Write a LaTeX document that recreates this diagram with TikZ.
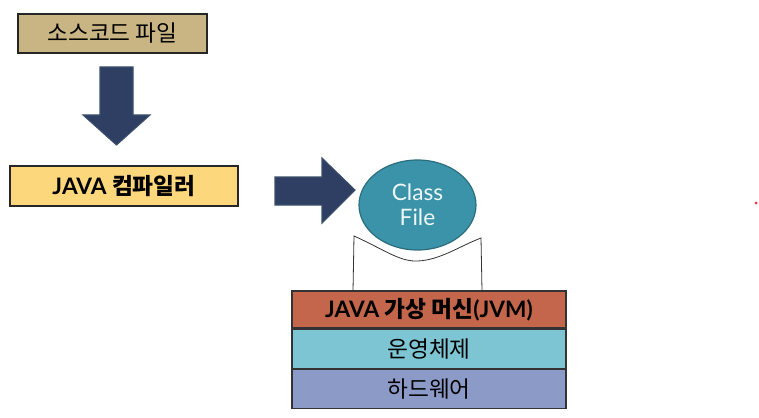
\documentclass[tikz,border=0pt]{standalone}
\usepackage{fontspec}
\setmainfont{Lato}
\newfontfamily\kr{Noto Sans CJK KR}
\usetikzlibrary{shapes.geometric}
\definecolor{tanbox}{HTML}{C9B583}
\definecolor{yellowbox}{HTML}{FDD77C}
\definecolor{navy}{HTML}{2F3E63}
\definecolor{navyedge}{HTML}{3B5068}
\definecolor{teal}{HTML}{3A93A8}
\definecolor{tealedge}{HTML}{2C6E7E}
\definecolor{jvmc}{HTML}{C4664B}
\definecolor{osc}{HTML}{7EC5D4}
\definecolor{hwc}{HTML}{8C9AC7}
\tikzset{
  box/.style={draw=black!85, line width=0.8pt, inner sep=0pt},
  blockarrow/.style={fill=navy, draw=navyedge, line width=0.8pt, line join=miter},
  layer/.style={draw=black!80, line width=0.8pt, minimum width=274*0.75pt, inner sep=0pt, font=\kr\fontsize{17}{19}\selectfont},
}
\begin{document}
\begin{tikzpicture}[x=0.75pt,y=-0.75pt]
\useasboundingbox (0,0) rectangle (759,417);
% boxes
\node[box, fill=tanbox, minimum width=189*0.75pt, minimum height=39*0.75pt, font=\kr\fontsize{17}{19}\selectfont] (src) at (112.5,33.5) {소스코드 파일};
\node[box, fill=yellowbox, minimum width=228*0.75pt, minimum height=40*0.75pt, font=\fontsize{17}{19}\selectfont\bfseries] (comp) at (124,186) {JAVA {\kr\bfseries 컴파일러}};
% down arrow
\draw[blockarrow] (100,67) -- (133,67) -- (133,115) -- (150,115) -- (116.5,145) -- (83,115) -- (100,115) -- cycle;
% right arrow
\draw[blockarrow] (275,177) -- (322,177) -- (322,158) -- (355,190) -- (322,223) -- (322,205) -- (275,205) -- cycle;
% bracket
\coordinate (bl) at (354,236);
\coordinate (br) at (481,238);
\coordinate (bbl) at (353,291);
\coordinate (bbr) at (482,291);
\draw[black!80, line width=0.6pt] (bbl) -- (bl) .. controls (385,250) and (400,262) .. (418,261) .. controls (440,260) and (460,246) .. (br) -- (bbr);
% class file
\node[ellipse, fill=teal, draw=tealedge, line width=0.9pt, minimum width=117*0.75pt, minimum height=90*0.75pt, inner sep=0pt, text=white!92!teal, font=\fontsize{17}{19}\selectfont, align=center] (cls) at (417.5,205) {Class\\File};
% stack
\node[layer, fill=jvmc, minimum height=37*0.75pt, font=\fontsize{17}{19}\selectfont\bfseries] (jvm) at (429,309.5) {JAVA {\kr\bfseries 가상 머신}(JVM)};
\node[layer, fill=osc, minimum height=39*0.75pt, anchor=north] (os) at (jvm.south) {운영체제};
\node[layer, fill=hwc, minimum height=39*0.75pt, anchor=north] (hw) at (os.south) {하드웨어};
% stray dot
\fill[red!85] (756,203) circle (1.5);
\end{tikzpicture}
\end{document}
